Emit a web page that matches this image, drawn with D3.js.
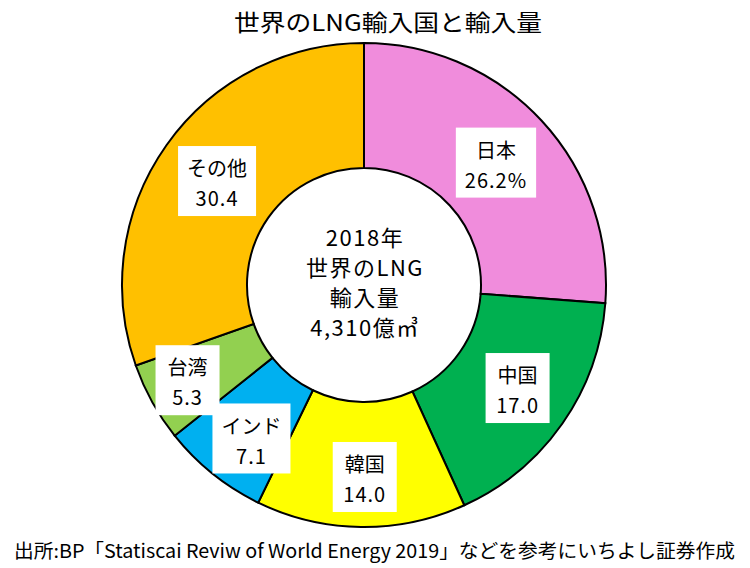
<!DOCTYPE html>
<html>
<head>
<meta charset="utf-8">
<script src="https://cdn.jsdelivr.net/npm/d3@7"></script>
<style>
  body { margin: 0; background: #fff; }
  text { font-family: "Noto Sans CJK JP", "Noto Sans", sans-serif; fill: #000; }
</style>
</head>
<body>
<svg id="chart"></svg>
<script>
    "use strict";

    // data (share of world LNG imports, 2018, %)
    var countries = ["日本", "中国", "韓国", "インド", "台湾", "その他"];
    var shares = [26.2, 17.0, 14.0, 7.1, 5.3, 30.4];
    var valueLabels = ["26.2%", "17.0", "14.0", "7.1", "5.3", "30.4"];
    var sliceColors = ["#f08cdc", "#00b050", "#ffff00", "#00b0f0", "#92d050", "#ffc000"];
    var centerLines = ["2018年", "世界のLNG", "輸入量", "4,310億㎥"];

    var title = "世界のLNG輸入国と輸入量";
    var source = "出所:BP「Statiscai Reviw of World Energy 2019」などを参考にいちよし証券作成";

    var width = 750, height = 568;
    var cx = 364, cy = 285;
    var outerR = 242, innerR = 117, labelR = 180;

    var svg = d3.select("#chart")
        .attr("width", width)
        .attr("height", height);

    svg.append("text")
        .text(title)
        .attr("x", 234)
        .attr("y", 31)
        .attr("font-size", 23)
        .attr("textLength", 308)
        .attr("lengthAdjust", "spacingAndGlyphs");

    var pie = d3.pie().sort(null).value(function(d) { return d.value; });
    var arc = d3.arc().innerRadius(innerR).outerRadius(outerR);
    var labelArc = d3.arc().innerRadius(labelR).outerRadius(labelR);

    var data = countries.map(function(c, i) {
        return { name: c, value: shares[i], label: valueLabels[i], color: sliceColors[i] };
    });
    var slices = pie(data);

    var g = svg.append("g").attr("transform", "translate(" + cx + "," + cy + ")");

    g.selectAll("path.slice")
        .data(slices)
        .enter().append("path")
        .attr("class", "slice")
        .attr("d", arc)
        .attr("fill", function(d) { return d.data.color; })
        .attr("stroke", "#000")
        .attr("stroke-width", 2);

    // the small slices have their labels pushed out a bit, as in the original
    var nudge = {
        "中国": [6, 0],
        "韓国": [3, 12],
        "インド": [0, 13],
        "台湾": [-19, 8]
    };

    var labels = g.selectAll("g.label")
        .data(slices)
        .enter().append("g")
        .attr("class", "label")
        .attr("transform", function(d) {
            var c = labelArc.centroid(d);
            var n = nudge[d.data.name] || [0, 0];
            return "translate(" + (c[0] + n[0]) + "," + (c[1] + n[1]) + ")";
        });

    var boxes = labels.append("rect").attr("fill", "#fff");

    labels.append("text")
        .attr("class", "name")
        .text(function(d) { return d.data.name; })
        .attr("text-anchor", "middle")
        .attr("y", -12)
        .attr("dy", "0.36em")
        .attr("font-size", 20);

    labels.append("text")
        .attr("class", "val")
        .text(function(d) { return d.data.label; })
        .attr("text-anchor", "middle")
        .attr("y", 18)
        .attr("dy", "0.36em")
        .attr("font-size", 20)
        .attr("letter-spacing", 1);

    boxes.each(function() {
        var parent = d3.select(this.parentNode);
        var w = 0;
        parent.selectAll("text").each(function() {
            w = Math.max(w, this.getBBox().width);
        });
        w = Math.max(w + 18, 64);
        d3.select(this)
            .attr("x", -w / 2)
            .attr("y", -35)
            .attr("width", w)
            .attr("height", 70);
    });

    // center text
    g.selectAll("text.center")
        .data(centerLines)
        .enter().append("text")
        .attr("class", "center")
        .text(function(d) { return d; })
        .attr("x", 1)
        .attr("y", function(d, i) { return -47 + i * 30; })
        .attr("dy", "0.36em")
        .attr("text-anchor", "middle")
        .attr("font-size", 22)
        .attr("letter-spacing", 1.5);

    svg.append("text")
        .text(source)
        .attr("x", 14)
        .attr("y", 558)
        .attr("font-size", 19)
        .attr("textLength", 721)
        .attr("lengthAdjust", "spacingAndGlyphs");
</script>
</body>
</html>
